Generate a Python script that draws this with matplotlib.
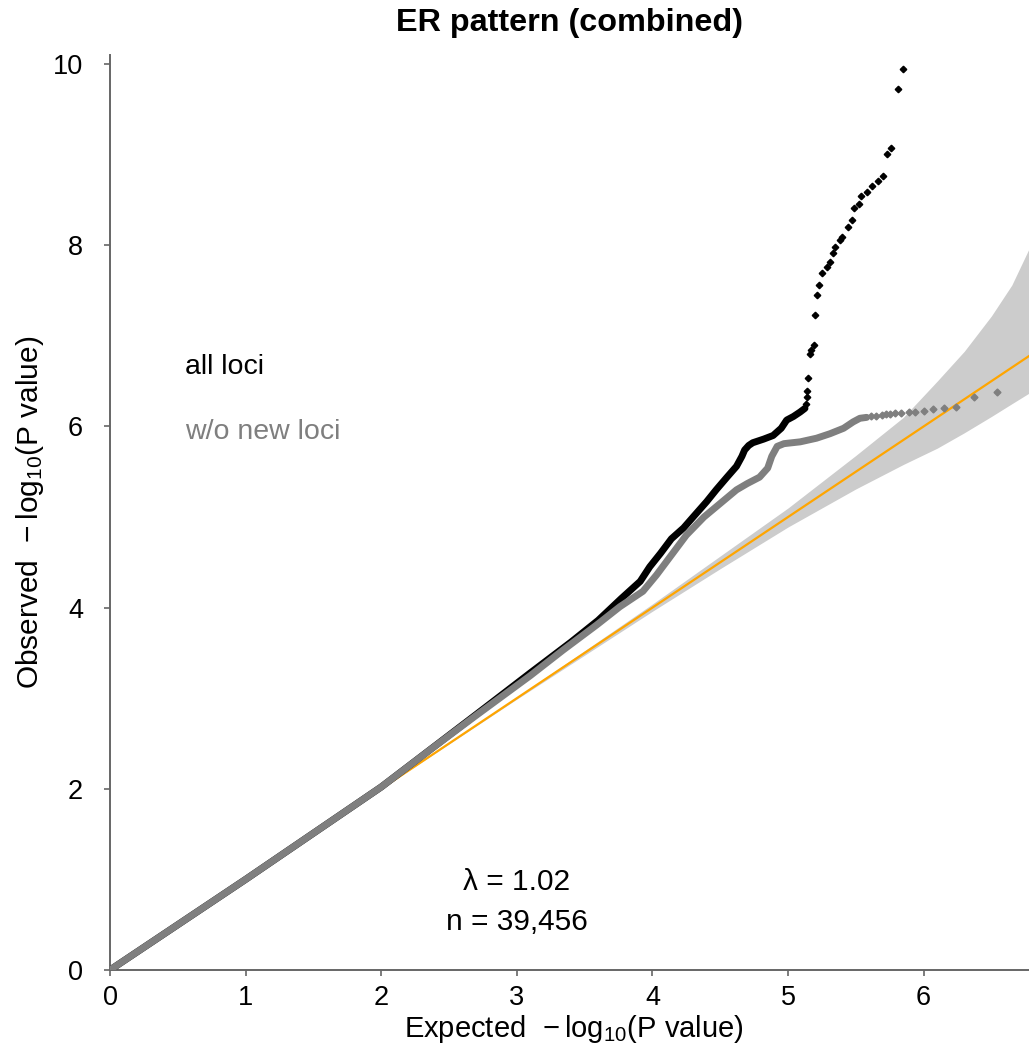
import matplotlib
matplotlib.use("Agg")
import matplotlib.pyplot as plt
import numpy as np

plt.rcParams['font.family'] = ['Liberation Sans', 'DejaVu Sans']
plt.rcParams['mathtext.fontset'] = 'custom'
plt.rcParams['mathtext.rm'] = 'Liberation Sans'
plt.rcParams['mathtext.it'] = 'Liberation Sans:italic'
plt.rcParams['mathtext.bf'] = 'Liberation Sans:bold'

# ---- data ----
# dense part of "all loci" curve (expected, observed)
all_dense_x = [0.0, 1.0, 2.0, 2.70, 3.10, 3.40, 3.60, 3.77, 3.91, 3.98, 4.06, 4.14, 4.23,
               4.30, 4.40, 4.47, 4.55, 4.62, 4.66, 4.68, 4.71, 4.74, 4.82, 4.89, 4.95,
               4.99, 5.04, 5.09, 5.125]
all_dense_y = [0.0, 1.0, 2.02, 2.82, 3.28, 3.62, 3.86, 4.10, 4.29, 4.45, 4.60, 4.76, 4.88,
               5.00, 5.17, 5.30, 5.44, 5.56, 5.67, 5.74, 5.79, 5.82, 5.86, 5.90, 5.98,
               6.07, 6.11, 6.16, 6.20]
# sparse tail of "all loci"
all_tail_x = [5.13, 5.14, 5.14, 5.15, 5.16, 5.17, 5.19, 5.20, 5.21, 5.23, 5.25, 5.29, 5.31,
              5.33, 5.35, 5.38, 5.40, 5.44, 5.47, 5.49, 5.52, 5.54, 5.58, 5.62, 5.66,
              5.70, 5.73, 5.76, 5.81, 5.85]
all_tail_y = [6.25, 6.33, 6.39, 6.54, 6.80, 6.84, 6.90, 7.23, 7.45, 7.56, 7.69, 7.76, 7.82,
              7.91, 7.98, 8.06, 8.09, 8.20, 8.28, 8.41, 8.46, 8.54, 8.59, 8.65, 8.71,
              8.76, 9.01, 9.07, 9.73, 9.94]

# dense part of "w/o new loci" curve
wo_dense_x = [0.0, 1.0, 2.0, 2.36, 2.70, 3.10, 3.34, 3.59, 3.76, 3.93, 4.03, 4.15, 4.25,
              4.38, 4.50, 4.62, 4.70, 4.79, 4.85, 4.88, 4.92, 4.97, 5.09, 5.21, 5.31,
              5.41, 5.48, 5.53, 5.58]
wo_dense_y = [0.0, 1.0, 2.02, 2.43, 2.81, 3.25, 3.53, 3.81, 4.01, 4.18, 4.36, 4.60, 4.80,
              5.00, 5.15, 5.30, 5.37, 5.44, 5.54, 5.67, 5.78, 5.81, 5.83, 5.87, 5.92,
              5.98, 6.05, 6.09, 6.10]
# sparse tail of "w/o new loci"
wo_tail_x = [5.61, 5.65, 5.69, 5.72, 5.75, 5.79, 5.83, 5.89, 5.94, 6.00, 6.07, 6.15, 6.24, 6.37, 6.54]
wo_tail_y = [6.11, 6.12, 6.13, 6.135, 6.14, 6.145, 6.15, 6.155, 6.16, 6.17, 6.19, 6.20, 6.22, 6.32, 6.38]

# confidence band around the null line
band_x  = [0.0, 2.0, 3.0, 4.0, 4.5, 5.0, 5.5, 5.85, 6.1, 6.3, 6.5, 6.65, 6.78]
band_hi = [0.0, 2.0, 3.01, 4.04, 4.57, 5.10, 5.68, 6.10, 6.50, 6.83, 7.22, 7.56, 7.97]
band_lo = [0.0, 2.0, 2.99, 3.96, 4.43, 4.89, 5.31, 5.58, 5.76, 5.93, 6.11, 6.25, 6.37]

x_ticks = [0, 1, 2, 3, 4, 5, 6]
y_ticks = [0, 2, 4, 6, 8, 10]
x_max = 6.777
y_max = 10.10

title = "ER pattern (combined)"
label_all = "all loci"
label_wo = "w/o new loci"
lambda_text = "λ = 1.02"
n_text = "n = 39,456"

# ---- figure ----
W, H = 1029, 1048
fig = plt.figure(figsize=(W / 100, H / 100), dpi=100)
ax = fig.add_axes([110 / W, (H - 970) / H, (W - 110) / W, (970 - 55) / H])

ax.fill_between(band_x, band_lo, band_hi, color='#CCCCCC', lw=0, zorder=1)
ax.plot([0, x_max], [0, x_max], color='#FFA500', lw=1.6, zorder=2)

ax.plot(all_dense_x, all_dense_y, color='black', lw=5.0, solid_capstyle='round',
        solid_joinstyle='round', zorder=3)
ax.plot(all_tail_x, all_tail_y, ls='none', marker='D', ms=3.3, color='black', zorder=3)
ax.plot(wo_dense_x, wo_dense_y, color='#7F7F7F', lw=5.0, solid_capstyle='round',
        solid_joinstyle='round', zorder=4)
ax.plot(wo_tail_x, wo_tail_y, ls='none', marker='D', ms=3.5, color='#7F7F7F', zorder=4)

ax.set_xlim(0, x_max)
ax.set_ylim(0, y_max)
ax.set_xticks(x_ticks)
ax.set_yticks(y_ticks)
ax.set_xticklabels([str(t) for t in x_ticks])
ax.set_yticklabels([str(t) for t in y_ticks])

for s in ['top', 'right']:
    ax.spines[s].set_visible(False)
for s in ['left', 'bottom']:
    ax.spines[s].set_color('#666666')
    ax.spines[s].set_linewidth(1.4)
ax.tick_params(axis='both', colors='#666666', length=4.5, width=1.2, labelcolor='black',
               labelsize=19.5)
ax.tick_params(axis='x', pad=6)
ax.tick_params(axis='y', pad=15)

ax.text(0.553, 6.66, label_all, color='black', fontsize=20.5, ha='left', va='center')
ax.text(0.553, 5.94, label_wo, color='#7F7F7F', fontsize=20.5, ha='left', va='center')
ax.text(3.0, 0.97, lambda_text, color='black', fontsize=21.5, ha='center', va='center')
ax.text(3.0, 0.53, n_text, color='black', fontsize=21.5, ha='center', va='center')

fig.text(569.5 / W, 1 - 23 / H, title, fontsize=23.3, fontweight='bold', ha='center', va='center')
fig.text(574 / W, 1 - 1029 / H, r"Expected $\,-$log$_{10}$(P value)", fontsize=21,
         ha='center', va='center')
fig.text(30 / W, 1 - 512 / H, r"Observed $\,-$log$_{10}$(P value)", fontsize=21.5,
         ha='center', va='center', rotation=90)

fig.savefig("out.png", dpi=100)
